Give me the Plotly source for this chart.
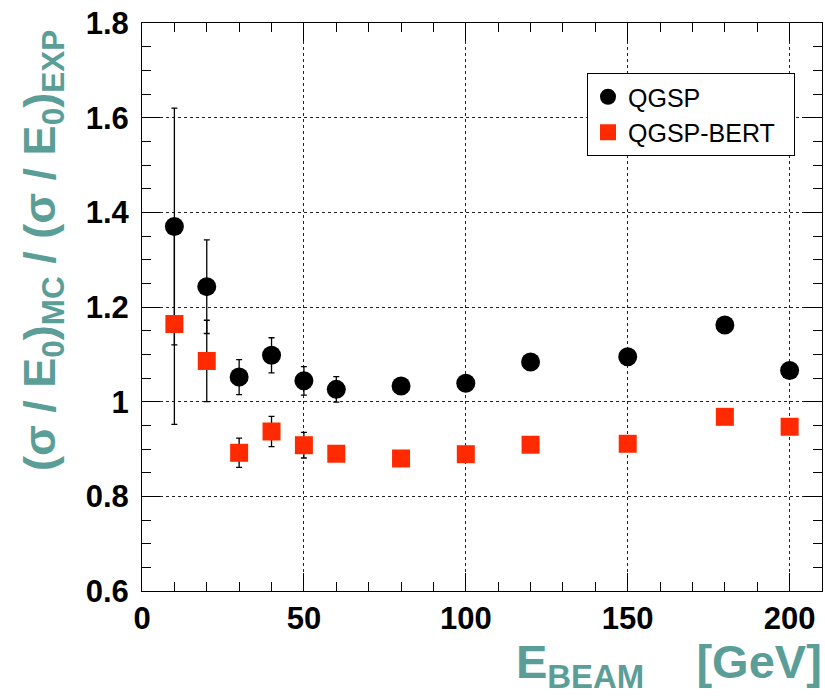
import plotly.graph_objects as go

# Beam energies [GeV]
energy = [10, 20, 30, 40, 50, 60, 80, 100, 120, 150, 180, 200]

# Ratio of MC to experimental energy resolution, QGSP physics list
qgsp = [1.370, 1.243, 1.052, 1.098, 1.044, 1.026, 1.033, 1.039, 1.084, 1.095, 1.162, 1.066]
qgsp_err = [0.250, 0.099, 0.037, 0.037, 0.030, 0.027, 0.012, 0.012, 0.012, 0.012, 0.012, 0.012]

# Same ratio, QGSP-BERT physics list
bert = [1.164, 1.086, 0.892, 0.937, 0.908, 0.890, 0.880, 0.889, 0.909, 0.911, 0.968, 0.947]
bert_err = [0.212, 0.086, 0.031, 0.032, 0.027, 0.015, 0.010, 0.010, 0.010, 0.010, 0.010, 0.010]

x_ticks = [0, 50, 100, 150, 200]
y_ticks = [0.6, 0.8, 1.0, 1.2, 1.4, 1.6, 1.8]

FONT = "Liberation Sans, Arial, Helvetica, sans-serif"
TEAL = "#5b9e98"
W, H = 825, 696
L, R, T, B = 142, 3, 23, 105

fig = go.Figure()
fig.add_trace(go.Scatter(
    x=energy, y=qgsp, mode="markers", name="QGSP",
    marker=dict(symbol="circle", size=19, color="black"),
    error_y=dict(type="data", array=qgsp_err, visible=True,
                 color="black", thickness=1.3, width=3),
))
fig.add_trace(go.Scatter(
    x=energy, y=bert, mode="markers", name="QGSP-BERT&nbsp;&nbsp;",
    marker=dict(symbol="square", size=18, color="#ff2a00"),
    error_y=dict(type="data", array=bert_err, visible=True,
                 color="black", thickness=1.3, width=3),
))

axis_common = dict(
    showline=True, linecolor="black", linewidth=1, mirror="allticks",
    ticks="inside", ticklen=18, tickwidth=1, tickcolor="black",
    showgrid=True, gridcolor="#222222", gridwidth=1, griddash="dot",
    zeroline=False,
    tickfont=dict(family=FONT, size=31, color="black", weight="bold"),
)

fig.update_xaxes(
    range=[0, 210], tickvals=x_ticks, ticklabelstandoff=0,
    minor=dict(dtick=10, ticks="inside", ticklen=9, tickcolor="black",
               tickwidth=1, showgrid=False),
    **axis_common,
)
fig.update_yaxes(
    range=[0.6, 1.8], tickvals=y_ticks, ticklabelstandoff=6,
    minor=dict(dtick=0.05, ticks="inside", ticklen=9, tickcolor="black",
               tickwidth=1, showgrid=False),
    **axis_common,
)

pw, ph = W - L - R, H - T - B

def px_x(p):
    return (p - L) / pw

def px_y(p):
    return (H - B - p) / ph

fig.add_annotation(
    xref="paper", yref="paper", x=px_x(824), y=px_y(633),
    xanchor="right", yanchor="top", showarrow=False,
    text="E<sub>BEAM</sub>&nbsp;&nbsp;&nbsp;&nbsp;[GeV]",
    font=dict(family=FONT, size=47, color=TEAL, weight="bold"),
)
fig.add_annotation(
    xref="paper", yref="paper", x=px_x(42), y=px_y(251),
    xanchor="center", yanchor="middle", showarrow=False, textangle=-90,
    text="(σ / E<sub>0</sub>)<sub>MC</sub> / (σ / E<sub>0</sub>)<sub>EXP</sub>",
    font=dict(family=FONT, size=45, color=TEAL, weight="bold"),
)

fig.update_layout(
    width=W, height=H, autosize=False,
    margin=dict(l=L, r=R, t=T, b=B, pad=0),
    paper_bgcolor="white", plot_bgcolor="white",
    showlegend=True,
    legend=dict(
        x=px_x(587), y=px_y(73), xanchor="left", yanchor="top",
        bgcolor="white", bordercolor="black", borderwidth=1,
        font=dict(family=FONT, size=25, color="black"),
        itemsizing="trace",
    ),
)

fig.write_html("out.html")
